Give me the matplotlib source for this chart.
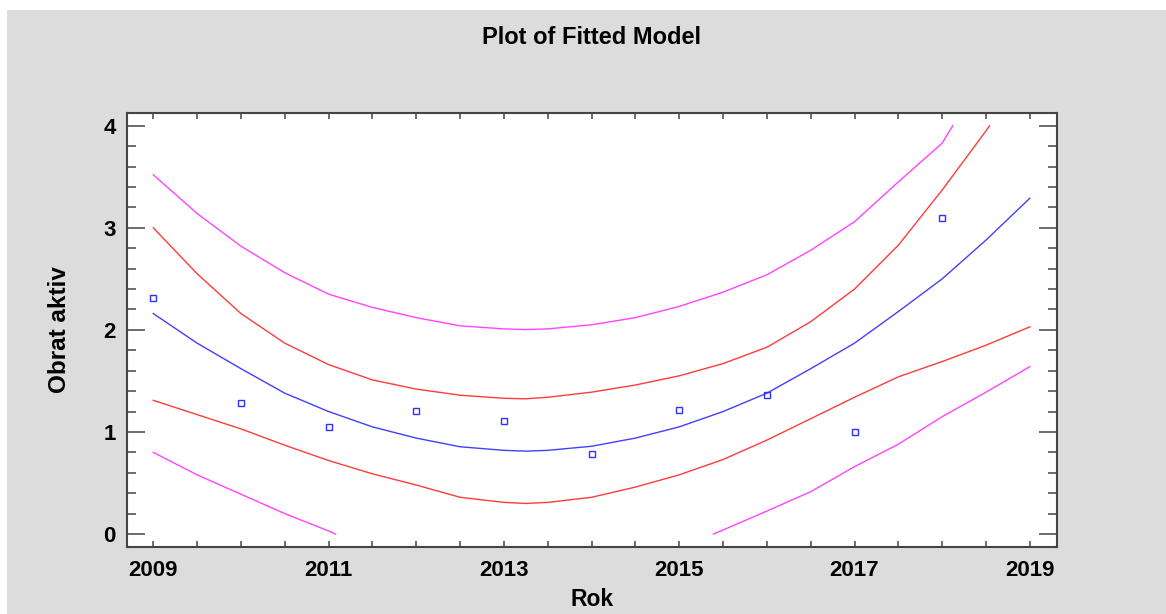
import matplotlib
matplotlib.use('Agg')
import matplotlib.pyplot as plt
from matplotlib.patches import Rectangle
from matplotlib.ticker import MultipleLocator, FixedLocator

# observed values
rok = [2009, 2010, 2011, 2012, 2013, 2014, 2015, 2016, 2017, 2018]
obrat = [2.31, 1.28, 1.05, 1.21, 1.11, 0.78, 1.22, 1.36, 1.00, 3.10]

# fitted model, sampled every half year (plus the turning point)
fit_x = [2009, 2009.5, 2010, 2010.5, 2011, 2011.5, 2012, 2012.5, 2013, 2013.25, 2013.5, 2014,
         2014.5, 2015, 2015.5, 2016, 2016.5, 2017, 2017.5, 2018, 2018.5, 2019]
fit_y = [2.16, 1.87, 1.62, 1.38, 1.20, 1.05, 0.94, 0.855, 0.82, 0.812, 0.82, 0.86,
         0.94, 1.05, 1.20, 1.38, 1.62, 1.87, 2.18, 2.50, 2.88, 3.29]

# confidence limits
ucl_x = [2009, 2009.5, 2010, 2010.5, 2011, 2011.5, 2012, 2012.5, 2013, 2013.25, 2013.5, 2014,
         2014.5, 2015, 2015.5, 2016, 2016.5, 2017, 2017.5, 2018, 2018.5, 2018.54]
ucl_y = [3.00, 2.55, 2.16, 1.87, 1.66, 1.51, 1.42, 1.36, 1.33, 1.325, 1.34, 1.39,
         1.46, 1.55, 1.67, 1.83, 2.08, 2.40, 2.83, 3.37, 3.95, 4.00]
lcl_x = fit_x
lcl_y = [1.31, 1.17, 1.03, 0.87, 0.72, 0.59, 0.48, 0.36, 0.31, 0.30, 0.31, 0.36,
         0.46, 0.58, 0.73, 0.92, 1.13, 1.34, 1.54, 1.69, 1.85, 2.03]

# prediction limits
upl_x = [2009, 2009.5, 2010, 2010.5, 2011, 2011.5, 2012, 2012.5, 2013, 2013.25, 2013.5, 2014,
         2014.5, 2015, 2015.5, 2016, 2016.5, 2017, 2017.5, 2018, 2018.12]
upl_y = [3.52, 3.14, 2.82, 2.56, 2.35, 2.22, 2.12, 2.04, 2.01, 2.003, 2.01, 2.05,
         2.12, 2.23, 2.37, 2.54, 2.78, 3.06, 3.45, 3.83, 4.00]
lpl1_x = [2009, 2009.5, 2010, 2010.5, 2011, 2011.08]
lpl1_y = [0.80, 0.58, 0.39, 0.20, 0.03, 0.00]
lpl2_x = [2015.39, 2015.5, 2016, 2016.5, 2017, 2017.5, 2018, 2018.5, 2019]
lpl2_y = [0.00, 0.04, 0.225, 0.415, 0.66, 0.88, 1.15, 1.39, 1.64]

x_ticks = [2009, 2011, 2013, 2015, 2017, 2019]
y_ticks = [0, 1, 2, 3, 4]

FONT = 'Liberation Sans'
AXCOL = '#444444'

fig = plt.figure(figsize=(11.66, 6.14), dpi=100)
fig.patch.set_facecolor('white')
# grey panel behind everything, leaving a thin white strip top and left
fig.patches.append(Rectangle((7 / 1166, 0), 1, (614 - 10) / 614, transform=fig.transFigure,
                             facecolor='#dcdcdc', edgecolor='none', zorder=-1))

ax = fig.add_axes([127 / 1166, (614 - 547) / 614, 930 / 1166, 434 / 614])
ax.set_zorder(1)
ax.set_facecolor('white')

ax.plot(upl_x, upl_y, color='#ff44ff', lw=1.0)
ax.plot(lpl1_x, lpl1_y, color='#ff44ff', lw=1.0)
ax.plot(lpl2_x, lpl2_y, color='#ff44ff', lw=1.0)
ax.plot(ucl_x, ucl_y, color='#ff3b3b', lw=1.0)
ax.plot(lcl_x, lcl_y, color='#ff3b3b', lw=1.0)
ax.plot(fit_x, fit_y, color='#4040ff', lw=1.0)
ax.plot(rok, obrat, ls='none', marker='s', ms=4.5, mfc='none', mec='#3030ff', mew=1.0)

ax.set_xlim(2008.70, 2019.31)
ax.set_ylim(-0.127, 4.125)

# axis ticks
ax.xaxis.set_major_locator(FixedLocator(x_ticks))
ax.xaxis.set_minor_locator(MultipleLocator(0.5))
ax.yaxis.set_major_locator(FixedLocator(y_ticks))
ax.yaxis.set_minor_locator(MultipleLocator(0.2))
ax.set_xticklabels([str(t) for t in x_ticks])
ax.set_yticklabels([str(t) for t in y_ticks])

ax.tick_params(axis='x', which='both', direction='in', top=True, bottom=True,
               length=4.5, width=1.1, color=AXCOL, pad=9)
ax.tick_params(axis='y', which='major', direction='in', left=True, right=True,
               length=13, width=1.1, color=AXCOL, pad=8)
ax.tick_params(axis='y', which='minor', direction='in', left=True, right=True,
               length=6.5, width=1.1, color=AXCOL)
for lab in ax.get_xticklabels() + ax.get_yticklabels():
    lab.set_fontfamily(FONT)
    lab.set_fontweight('bold')
    lab.set_fontsize(16)

for sp in ax.spines.values():
    sp.set_color(AXCOL)
    sp.set_linewidth(1.5)

# labels and title
ax.set_xlabel('Rok', fontfamily=FONT, fontweight='bold', fontsize=16.5, va='center')
ax.xaxis.set_label_coords(0.5, (547 - 600) / 434)
ax.set_ylabel('Obrat aktiv', fontfamily=FONT, fontweight='bold', fontsize=17.5, va='center')
ax.yaxis.set_label_coords((60 - 127) / 930, 0.5)
ax.set_title('Plot of Fitted Model', fontfamily=FONT, fontweight='bold', fontsize=17,
             y=(547 - 37) / 434, va='center', pad=0)

plt.savefig('out.png', dpi=100)
